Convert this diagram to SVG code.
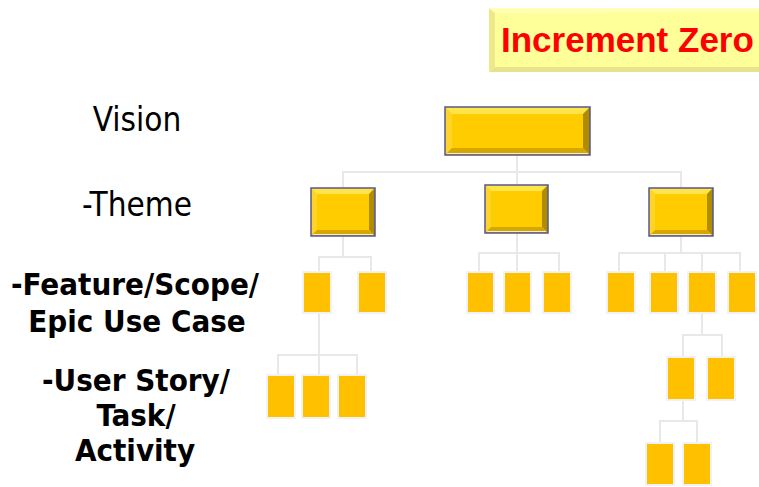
<svg xmlns="http://www.w3.org/2000/svg" width="759" height="487" viewBox="0 0 759 487">
<style>
  .lbl { font-family: "DejaVu Sans Condensed", "DejaVu Sans", sans-serif; font-stretch: condensed; fill: #000; text-anchor: middle; }
  .reg { font-size: 33px; }
  .bold { font-size: 31px; font-weight: bold; }
  .title { font-family: "Liberation Sans", Arial, sans-serif; font-weight: bold; font-size: 35px; fill: #FF0000; }
  .conn line { stroke: #E8E8E8; stroke-width: 2; fill: none; }
  .base { fill: #FFCC00; }
  .bt { fill: #FFE54A; }
  .bl { fill: #FFD42A; }
  .br { fill: #B08C00; }
  .bb { fill: #D6A700; }
  .edge { fill: none; stroke: #58588C; stroke-width: 1.5; }
  .shine { stroke: #F4ECD6; stroke-width: 1.2; }
  .small { fill: #FFC000; stroke: #F2F2F2; stroke-width: 2; }
</style>

<g id="increment-zero">
  <rect x="489" y="8" width="280" height="64" fill="#FFFF99"/>
  <polygon points="489,8 495,13 495,67 489,72" fill="#EDE98A"/>
  <polygon points="489,72 495,67 769,67 769,72" fill="#E8E28C"/>
  <polygon points="489,8 769,8 769,12 495,13" fill="#FFFFB8"/>
  <text class="title" x="501" y="52">Increment Zero</text>
</g>

<g id="labels">
  <text class="lbl reg" x="137" y="131">Vision</text>
  <text class="lbl reg" x="137" y="216">-Theme</text>
  <text class="lbl bold" x="135" y="295">-Feature/Scope/</text>
  <text class="lbl bold" x="137" y="332">Epic Use Case</text>
  <text class="lbl bold" x="136" y="391">-User Story/</text>
  <text class="lbl bold" x="136" y="426">Task/</text>
  <text class="lbl bold" x="135" y="461">Activity</text>
</g>

<g id="connectors" class="conn">
  <line x1="517" y1="155" x2="517" y2="172"/>
  <line x1="342" y1="172" x2="682" y2="172"/>
  <line x1="343" y1="172" x2="343" y2="188"/>
  <line x1="517" y1="172" x2="517" y2="185"/>
  <line x1="681" y1="172" x2="681" y2="188"/>

  <line x1="343" y1="236" x2="343" y2="257"/>
  <line x1="318" y1="257" x2="372" y2="257"/>
  <line x1="319" y1="257" x2="319" y2="272"/>
  <line x1="371" y1="257" x2="371" y2="272"/>

  <line x1="517" y1="233" x2="517" y2="253"/>
  <line x1="478" y1="253" x2="560" y2="253"/>
  <line x1="479" y1="253" x2="479" y2="272"/>
  <line x1="517" y1="253" x2="517" y2="272"/>
  <line x1="559" y1="253" x2="559" y2="272"/>

  <line x1="681" y1="236" x2="681" y2="253"/>
  <line x1="618" y1="253" x2="741" y2="253"/>
  <line x1="619" y1="253" x2="619" y2="272"/>
  <line x1="665" y1="253" x2="665" y2="272"/>
  <line x1="702" y1="253" x2="702" y2="272"/>
  <line x1="740" y1="253" x2="740" y2="272"/>

  <line x1="319" y1="313" x2="319" y2="355"/>
  <line x1="277" y1="355" x2="358" y2="355"/>
  <line x1="278" y1="355" x2="278" y2="375"/>
  <line x1="319" y1="355" x2="319" y2="375"/>
  <line x1="357" y1="355" x2="357" y2="375"/>

  <line x1="702" y1="313" x2="702" y2="335"/>
  <line x1="682" y1="335" x2="723" y2="335"/>
  <line x1="683" y1="335" x2="683" y2="357"/>
  <line x1="722" y1="335" x2="722" y2="357"/>

  <line x1="683" y1="400" x2="683" y2="421"/>
  <line x1="659" y1="421" x2="698" y2="421"/>
  <line x1="660" y1="421" x2="660" y2="443"/>
  <line x1="697" y1="421" x2="697" y2="443"/>
</g>

<g id="vision">
  <rect class="base" x="445" y="107" width="145" height="48"/>
  <polygon class="bt" points="445,107 590,107 583,114 452,114"/>
  <polygon class="bl" points="445,107 452,114 452,148 445,155"/>
  <polygon class="br" points="590,107 590,155 583,148 583,114"/>
  <polygon class="bb" points="445,155 452,148 583,148 590,155"/>
  <line class="shine" x1="447" y1="153.5" x2="588" y2="153.5"/>
  <rect class="edge" x="445" y="107" width="145" height="48"/>
</g>

<g id="theme-1">
  <rect class="base" x="311" y="188" width="64" height="48"/>
  <polygon class="bt" points="311,188 375,188 369,194 317,194"/>
  <polygon class="bl" points="311,188 317,194 317,230 311,236"/>
  <polygon class="br" points="375,188 375,236 369,230 369,194"/>
  <polygon class="bb" points="311,236 317,230 369,230 375,236"/>
  <line class="shine" x1="313" y1="234.5" x2="373" y2="234.5"/>
  <rect class="edge" x="311" y="188" width="64" height="48"/>
</g>

<g id="theme-2">
  <rect class="base" x="485" y="185" width="63" height="48"/>
  <polygon class="bt" points="485,185 548,185 542,191 491,191"/>
  <polygon class="bl" points="485,185 491,191 491,227 485,233"/>
  <polygon class="br" points="548,185 548,233 542,227 542,191"/>
  <polygon class="bb" points="485,233 491,227 542,227 548,233"/>
  <line class="shine" x1="487" y1="231.5" x2="546" y2="231.5"/>
  <rect class="edge" x="485" y="185" width="63" height="48"/>
</g>

<g id="theme-3">
  <rect class="base" x="649" y="188" width="64" height="48"/>
  <polygon class="bt" points="649,188 713,188 707,194 655,194"/>
  <polygon class="bl" points="649,188 655,194 655,230 649,236"/>
  <polygon class="br" points="713,188 713,236 707,230 707,194"/>
  <polygon class="bb" points="649,236 655,230 707,230 713,236"/>
  <line class="shine" x1="651" y1="234.5" x2="711" y2="234.5"/>
  <rect class="edge" x="649" y="188" width="64" height="48"/>
</g>

<g id="feature-1"><rect class="small" x="303" y="272" width="28" height="41"/></g>
<g id="feature-2"><rect class="small" x="358" y="272" width="28" height="41"/></g>
<g id="feature-3"><rect class="small" x="467" y="272" width="27" height="41"/></g>
<g id="feature-4"><rect class="small" x="504" y="272" width="27" height="41"/></g>
<g id="feature-5"><rect class="small" x="543" y="272" width="28" height="41"/></g>
<g id="feature-6"><rect class="small" x="607" y="272" width="28" height="41"/></g>
<g id="feature-7"><rect class="small" x="650" y="272" width="28" height="41"/></g>
<g id="feature-8"><rect class="small" x="688" y="272" width="28" height="41"/></g>
<g id="feature-9"><rect class="small" x="728" y="272" width="28" height="41"/></g>

<g id="story-1"><rect class="small" x="267" y="375" width="28" height="43"/></g>
<g id="story-2"><rect class="small" x="302" y="375" width="28" height="43"/></g>
<g id="story-3"><rect class="small" x="338" y="375" width="28" height="43"/></g>

<g id="sub-feature-1"><rect class="small" x="667" y="357" width="28" height="43"/></g>
<g id="sub-feature-2"><rect class="small" x="707" y="357" width="28" height="43"/></g>

<g id="task-1"><rect class="small" x="646" y="443" width="28" height="42"/></g>
<g id="task-2"><rect class="small" x="683" y="443" width="28" height="42"/></g>
</svg>
